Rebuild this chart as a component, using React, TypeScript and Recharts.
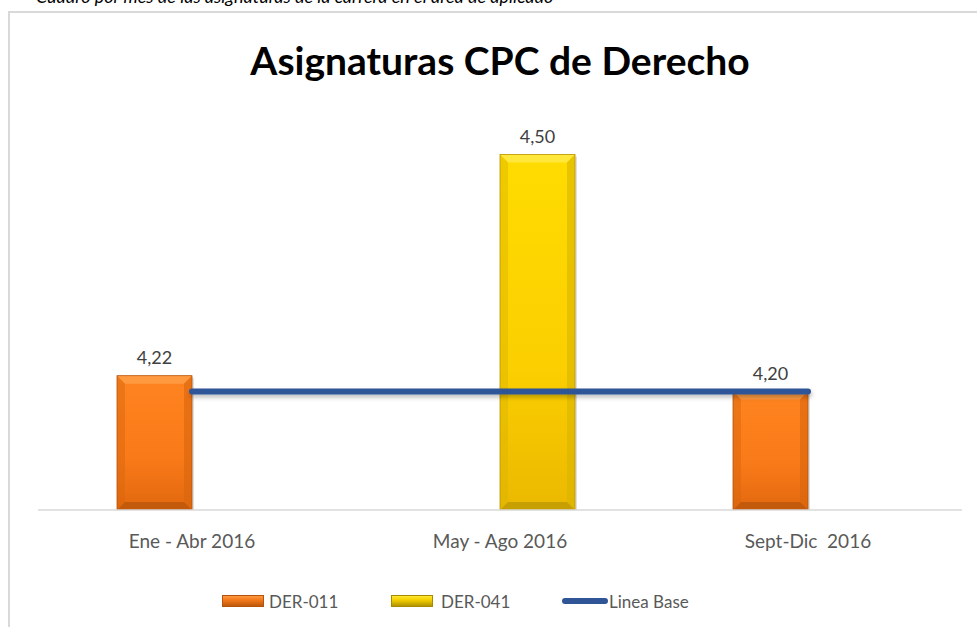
import React from "react";
import { ComposedChart, Bar, Line, XAxis, YAxis, LabelList } from "recharts";

const categories = ["Ene - Abr 2016", "May - Ago 2016", "Sept-Dic\u00a0 2016"];
const der011 = [4.22, null, 4.2];
const der041 = [null, 4.5, null];
const lineaBase = [4.2, 4.2, 4.2];
const seriesNames = ["DER-011", "DER-041", "Linea Base"];
const yDomain = [4.05, 4.55];

const data = categories.map((c, i) => ({
  name: c,
  der011: der011[i],
  der041: der041[i],
  base: lineaBase[i],
}));

const FONT = "Lato, 'Open Sans', sans-serif";

const fmt = (v: any) => (v == null ? "" : Number(v).toFixed(2).replace(".", ","));

const makeBevel = (light: string, dark: string, darker: string, gid: string) => (props: any) => {
  const { x, y, width, height } = props;
  if (height == null || height <= 0 || width <= 0) return null;
  const b = Math.min(8, width / 4, height / 4);
  return (
    <g>
      <rect x={x + 2} y={y + 2} width={width} height={height} fill="rgba(0,0,0,0.12)" />
      <rect x={x} y={y} width={width} height={height} fill={`url(#${gid})`} />
      <polygon points={`${x},${y} ${x + width},${y} ${x + width - b},${y + b} ${x + b},${y + b}`} fill={light} opacity={0.8} />
      <polygon points={`${x},${y} ${x + b},${y + b} ${x + b},${y + height - b} ${x},${y + height}`} fill={dark} opacity={0.45} />
      <polygon points={`${x + width},${y} ${x + width - b},${y + b} ${x + width - b},${y + height - b} ${x + width},${y + height}`} fill={dark} opacity={0.6} />
      <polygon points={`${x},${y + height} ${x + b},${y + height - b} ${x + width - b},${y + height - b} ${x + width},${y + height}`} fill={darker} opacity={0.7} />
      <rect x={x} y={y} width={width} height={height} fill="none" stroke={darker} strokeWidth={0.8} />
    </g>
  );
};

const OrangeBar = makeBevel("#FFA04A", "#D8650E", "#B5530A", "gOrange");
const YellowBar = makeBevel("#FFEA4A", "#D9B400", "#B89400", "gYellow");

const Swatch = ({ c1, c2, edge }: { c1: string; c2: string; edge: string }) => (
  <svg width={42} height={12} style={{ display: "block" }}>
    <defs>
      <linearGradient id={`sw${c1.slice(1)}`} x1="0" y1="0" x2="0" y2="1">
        <stop offset="0" stopColor={c2} />
        <stop offset="0.4" stopColor={c1} />
        <stop offset="1" stopColor={edge} />
      </linearGradient>
    </defs>
    <rect x={0} y={0} width={42} height={12} fill={`url(#sw${c1.slice(1)})`} />
    <rect x={0.5} y={0.5} width={41} height={11} fill="none" stroke={edge} strokeWidth={1} />
  </svg>
);

export default function App() {
  return (
    <div style={{ position: "absolute", left: 0, top: 0, width: 977, height: 627, background: "#fff", overflow: "hidden", fontFamily: FONT }}>
      <div style={{ position: "absolute", left: 36, top: -15, fontStyle: "italic", fontSize: 18, color: "#000", whiteSpace: "nowrap", fontFamily: "Lato, sans-serif" }}>
        Cuadro por mes de las asignaturas de la carrera en el área de aplicado
      </div>
      <div style={{ position: "absolute", left: 8, top: 11, width: 1000, height: 700, borderLeft: "2px solid #D9D9D9", borderTop: "2px solid #D9D9D9", background: "#fff" }} />
      <div style={{ position: "absolute", left: 500, top: 37, transform: "translateX(-50%)", whiteSpace: "nowrap", fontSize: 39, fontWeight: 700, color: "#000" }}>
        Asignaturas CPC de Derecho
      </div>
      <div style={{ position: "absolute", left: 0, top: 0 }}>
        <ComposedChart width={977} height={627} data={data} margin={{ top: 115, right: 15, left: 38, bottom: 87 }} barGap={0} barSize={75}>
          <defs>
            <linearGradient id="gOrange" x1="0" y1="0" x2="0" y2="1">
              <stop offset="0" stopColor="#FF8420" />
              <stop offset="0.6" stopColor="#F97A18" />
              <stop offset="1" stopColor="#E2680F" />
            </linearGradient>
            <linearGradient id="gYellow" x1="0" y1="0" x2="0" y2="1">
              <stop offset="0" stopColor="#FFDC00" />
              <stop offset="0.6" stopColor="#FBCF00" />
              <stop offset="1" stopColor="#EBB800" />
            </linearGradient>
            <filter id="lineShadow" filterUnits="userSpaceOnUse" x="0" y="0" width="977" height="627">
              <feDropShadow dx="1" dy="3" stdDeviation="2" floodColor="#000" floodOpacity="0.25" />
            </filter>
          </defs>
          <XAxis
            dataKey="name"
            axisLine={{ stroke: "#D9D9D9", strokeWidth: 1.5 }}
            tickLine={false}
            tickMargin={19}
            height={30}
            tick={{ fill: "#595959", fontSize: 19, fontFamily: FONT }}
            interval={0}
          />
          <YAxis hide domain={yDomain} allowDataOverflow />
          <Bar dataKey="der011" name={seriesNames[0]} shape={OrangeBar} isAnimationActive={false}>
            <LabelList dataKey="der011" position="top" offset={12} formatter={fmt} style={{ fill: "#404040", fontSize: 18, fontFamily: FONT }} />
          </Bar>
          <Bar dataKey="der041" name={seriesNames[1]} shape={YellowBar} isAnimationActive={false}>
            <LabelList dataKey="der041" position="top" offset={12} formatter={fmt} style={{ fill: "#404040", fontSize: 18, fontFamily: FONT }} />
          </Bar>
          <Line
            dataKey="base"
            name={seriesNames[2]}
            stroke="#2F5597"
            strokeWidth={6}
            strokeLinecap="round"
            dot={false}
            activeDot={false}
            isAnimationActive={false}
            filter="url(#lineShadow)"
          />
        </ComposedChart>
      </div>
      <div style={{ position: "absolute", top: 590, left: 222, display: "flex", alignItems: "center", fontSize: 17, color: "#595959", height: 22 }}>
        <Swatch c1="#F57A1A" c2="#FFA050" edge="#B5530A" />
        <span style={{ marginLeft: 5 }}>{seriesNames[0]}</span>
      </div>
      <div style={{ position: "absolute", top: 590, left: 391, display: "flex", alignItems: "center", fontSize: 17, color: "#595959", height: 22 }}>
        <Swatch c1="#F5D000" c2="#FFEE40" edge="#A88A00" />
        <span style={{ marginLeft: 8 }}>{seriesNames[1]}</span>
      </div>
      <div style={{ position: "absolute", top: 590, left: 562, display: "flex", alignItems: "center", fontSize: 17, color: "#595959", height: 22 }}>
        <svg width={46} height={10} style={{ display: "block" }}>
          <line x1={3} y1={5} x2={43} y2={5} stroke="#2F5597" strokeWidth={6} strokeLinecap="round" />
        </svg>
        <span style={{ marginLeft: 1 }}>{seriesNames[2]}</span>
      </div>
    </div>
  );
}
